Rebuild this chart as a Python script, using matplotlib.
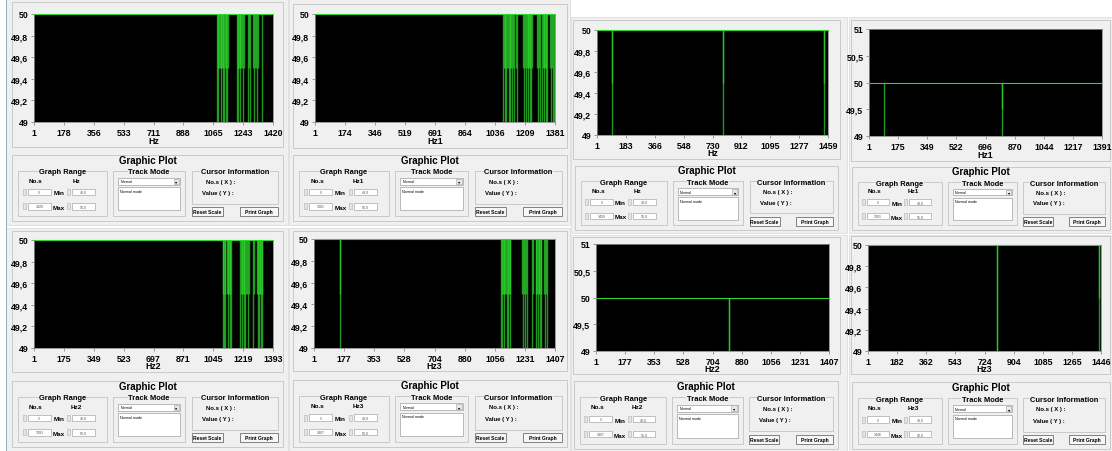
import matplotlib.pyplot as plt
from matplotlib.patches import Rectangle
import numpy as np

plt.rcParams['font.family'] = ['Liberation Sans', 'DejaVu Sans']

W, H = 1112, 452

# ---- data for the eight frequency plots ----
n_samples = [1420, 1381, 1459, 1391, 1393, 1407, 1407, 1446]
axis_names = ['Hz', 'Hz1', 'Hz', 'Hz1', 'Hz2', 'Hz3', 'Hz2', 'Hz3']
y_min = [49, 49, 49, 49, 49, 49, 49, 49]
y_max = [50, 50, 50, 51, 50, 50, 51, 50]
base_level = [50, 50, 50, 50, 50, 50, 50, 50]

x_ticks = [
    [1, 178, 356, 533, 711, 888, 1065, 1243, 1420],
    [1, 174, 346, 519, 691, 864, 1036, 1209, 1381],
    [1, 183, 366, 548, 730, 912, 1095, 1277, 1459],
    [1, 175, 349, 522, 696, 870, 1044, 1217, 1391],
    [1, 175, 349, 523, 697, 871, 1045, 1219, 1393],
    [1, 177, 353, 528, 704, 880, 1056, 1231, 1407],
    [1, 177, 353, 528, 704, 880, 1056, 1231, 1407],
    [1, 182, 362, 543, 724, 904, 1085, 1265, 1446],
]

# sample positions where the frequency drops, and the value it drops to
dips_x = [
    [1087, 1091, 1095, 1099, 1104, 1109, 1113, 1117, 1121, 1125, 1129,
     1135, 1139, 1143, 1147, 1151,
     1206, 1210, 1214, 1218, 1222, 1226, 1230, 1238, 1244, 1250,
     1273, 1279, 1284, 1303, 1308, 1313, 1318, 1323, 1328, 1355],
    [1083, 1087, 1091, 1095, 1099, 1103, 1112, 1116, 1120, 1124, 1128, 1132,
     1142, 1148, 1154, 1160, 1198, 1204, 1209,
     1215, 1219, 1223, 1227, 1231, 1235, 1240, 1245, 1250,
     1278, 1284, 1290, 1295, 1307, 1311, 1315, 1319, 1323, 1327, 1331, 1335,
     1353, 1359, 1365, 1370, 1375],
    [95, 97, 795, 797, 1432, 1434],
    [90, 792, 794],
    [1100, 1104, 1108, 1112, 1115, 1124, 1128, 1132, 1136, 1140, 1144, 1148,
     1202, 1206, 1210, 1214, 1218, 1222, 1226, 1231, 1236, 1243, 1248, 1253,
     1275, 1280, 1299, 1303, 1307, 1311, 1315, 1319, 1323, 1327, 1331],
    [152, 154,
     1091, 1095, 1099, 1103, 1107, 1111, 1115, 1122, 1126, 1130, 1134, 1138, 1142, 1146,
     1214, 1220, 1226, 1232, 1238, 1242, 1272, 1277,
     1295, 1299, 1303, 1307, 1311, 1315, 1319, 1323, 1327, 1340, 1346, 1352, 1358],
    [803, 804],
    [799, 801, 1431, 1433],
]
dips_y = [
    [49, 49.5, 49, 49.5, 49.5, 49.5, 49, 49.5, 49, 49.5, 49,
     49.5, 49, 49.5, 49, 49.5,
     49, 49.5, 49, 49.5, 49.5, 49, 49.5, 49.5, 49, 49.5,
     49, 49.5, 49, 49.5, 49, 49.5, 49.5, 49, 49.5, 49],
    [49, 49.5, 49, 49.5, 49, 49.5, 49.5, 49, 49.5, 49, 49.5, 49,
     49.5, 49, 49.5, 49, 49.5, 49, 49.5,
     49, 49.5, 49, 49.5, 49.5, 49, 49.5, 49, 49.5,
     49.5, 49, 49.5, 49, 49, 49.5, 49, 49.5, 49.5, 49, 49.5, 49,
     49.5, 49, 49.5, 49, 49],
    [49.5, 49, 49.5, 49, 49.5, 49],
    [49, 49.5, 49],
    [49, 49.5, 49, 49.5, 49, 49.5, 49, 49.5, 49.5, 49, 49.5, 49,
     49, 49.5, 49, 49.5, 49.5, 49, 49.5, 49, 49.5, 49.5, 49, 49.5,
     49, 49.5, 49.5, 49, 49.5, 49, 49.5, 49.5, 49, 49.5, 49],
    [49.5, 49,
     49, 49.5, 49, 49.5, 49.5, 49, 49.5, 49.5, 49, 49.5, 49, 49.5, 49.5, 49,
     49.5, 49, 49.5, 49, 49.5, 49, 49, 49.5,
     49.5, 49, 49.5, 49, 49.5, 49.5, 49, 49.5, 49, 49.5, 49, 49.5, 49],
    [49, 49],
    [49, 49, 49.5, 49],
]

# ---- screen layout (pixels, origin top-left) ----
backs = [(6, 0, 288, 226), (289, 0, 570, 226), (571, 18, 847, 234), (849, 18, 1112, 234),
         (6, 229, 288, 452), (289, 229, 570, 452), (571, 236, 847, 452), (849, 236, 1112, 452)]
frames = [(12, 3, 283, 148), (293, 5, 567, 149), (573, 21, 840, 160), (851, 21, 1110, 162),
          (12, 232, 283, 373), (293, 232, 567, 372), (573, 238, 840, 375), (851, 237, 1110, 375)]
plots = [(34, 15, 273, 123), (315, 15, 555, 123), (597, 31, 828, 136), (869, 30, 1102, 137),
         (34, 241, 273, 349), (314, 240, 555, 349), (596, 245, 829, 352), (868, 246, 1101, 352)]
boxes = [(12, 156, 283, 222), (293, 156, 567, 222), (575, 167, 838, 231), (852, 168, 1110, 231),
         (12, 382, 283, 448), (293, 381, 567, 448), (574, 382, 838, 450), (852, 383, 1110, 450)]

GREEN = '#2fd82f'
PANEL = '#f0f0f0'
EDGE = '#c9c9c9'

fig = plt.figure(figsize=(W / 100, H / 100), dpi=100)
fig.patch.set_facecolor('white')


def rect(x0, y0, x1, y1, **kw):
    kw.setdefault('lw', 0.7)
    kw.setdefault('zorder', 0.5)
    fig.patches.append(Rectangle((x0 / W, 1 - y1 / H), (x1 - x0) / W, (y1 - y0) / H,
                                 transform=fig.transFigure, **kw))


def text(x, y, s, size=5, **kw):
    kw.setdefault('ha', 'center')
    kw.setdefault('va', 'center')
    kw.setdefault('weight', 'bold')
    fig.text(x / W, 1 - y / H, s, fontsize=size, **kw)


def fmt(v):
    return ('%g' % v).replace('.', ',')


def group(x0, y0, x1, y1, title, size=5.4):
    rect(x0, y0, x1, y1, fc='none', ec=EDGE)
    text((x0 + x1) / 2, y0 + 1, title, size=size,
         bbox=dict(fc=PANEL, ec='none', pad=0.3))


def field(x0, y0, x1, y1, s, tc='#555555'):
    rect(x0, y0, x1, y1, fc='white', ec='#a8a8a8', lw=0.5)
    text((x0 + x1) / 2, (y0 + y1) / 2, s, size=2.6, color=tc, weight='normal')


def spinner(x, y):
    rect(x - 1.5, y - 3, x + 1.5, y + 3, fc='#e4e4e4', ec='#b0b0b0', lw=0.4)


def controls(box, n, name, ymin, ymax):
    x0, y0, x1, y1 = box
    w, h = x1 - x0, y1 - y0
    rect(x0, y0, x1, y1, fc='none', ec=EDGE)
    text((x0 + x1) / 2, y0 + 0.07 * h, 'Graphic Plot', size=7)

    # graph range group
    gx0, gx1 = x0 + 0.022 * w, x0 + 0.35 * w
    gw = gx1 - gx0
    group(gx0, y0 + 0.24 * h, gx1, y0 + 0.92 * h, 'Graph Range')
    text(gx0 + 0.2 * gw, y0 + 0.38 * h, 'No.s', size=4.6)
    text(gx0 + 0.66 * gw, y0 + 0.38 * h, name, size=4.6)
    for ry, left, lab, right in [(0.56, '0', 'Min', fmt(ymin) + ',0'),
                                 (0.78, str(n), 'Max', fmt(ymax) + ',0')]:
        yy = y0 + ry * h
        spinner(gx0 + 0.07 * gw, yy)
        tc = '#2a6fd6' if left == '0' else '#555555'
        field(gx0 + 0.11 * gw, yy - 3.2, gx0 + 0.37 * gw, yy + 3.2, left, tc=tc)
        text(gx0 + 0.46 * gw, yy + 1, lab, size=4.6)
        spinner(gx0 + 0.57 * gw, yy)
        field(gx0 + 0.61 * gw, yy - 3.2, gx0 + 0.87 * gw, yy + 3.2, right)

    # track mode group
    tx0, tx1 = x0 + 0.373 * w, x0 + 0.639 * w
    tw = tx1 - tx0
    group(tx0, y0 + 0.24 * h, tx1, y0 + 0.92 * h, 'Track Mode')
    rect(tx0 + 0.07 * tw, y0 + 0.35 * h, tx0 + 0.93 * tw, y0 + 0.45 * h, fc='white', ec='#a0a0a0', lw=0.5)
    text(tx0 + 0.1 * tw, y0 + 0.40 * h, 'Normal', size=2.6, ha='left', weight='normal')
    rect(tx0 + 0.84 * tw, y0 + 0.36 * h, tx0 + 0.92 * tw, y0 + 0.44 * h, fc='#e8e8e8', ec='#a0a0a0', lw=0.4)
    text(tx0 + 0.88 * tw, y0 + 0.40 * h, '\u25be', size=3.2, weight='normal')
    rect(tx0 + 0.07 * tw, y0 + 0.49 * h, tx0 + 0.93 * tw, y0 + 0.84 * h, fc='white', ec='#a0a0a0', lw=0.5)
    text(tx0 + 0.1 * tw, y0 + 0.54 * h, 'Normal mode', size=2.6, ha='left', weight='normal')

    # cursor information group
    cx0, cx1 = x0 + 0.664 * w, x0 + 0.982 * w
    cw = cx1 - cx0
    group(cx0, y0 + 0.24 * h, cx1, y0 + 0.74 * h, 'Cursor Information')
    text(cx0 + 0.16 * cw, y0 + 0.40 * h, 'No.s ( X ) :', size=4.3, ha='left')
    text(cx0 + 0.12 * cw, y0 + 0.57 * h, 'Value ( Y ) :', size=4.3, ha='left')

    for bx0, bx1, lab in [(0.664, 0.778, 'Reset Scale'), (0.84, 0.982, 'Print Graph')]:
        rect(x0 + bx0 * w, y0 + 0.79 * h, x0 + bx1 * w, y0 + 0.93 * h, fc='#f7f7f7', ec='#6f6f6f', lw=0.6)
        text(x0 + (bx0 + bx1) / 2 * w, y0 + 0.86 * h, lab, size=3.6)


for i in range(8):
    rect(*backs[i], fc=PANEL, ec='#d8d8d8', lw=0.5, zorder=0.2)
    rect(*frames[i], fc='none', ec=EDGE)

    px0, py0, px1, py1 = plots[i]
    ax = fig.add_axes([px0 / W, 1 - py1 / H, (px1 - px0) / W, (py1 - py0) / H])
    ax.set_zorder(2)
    ax.set_facecolor('black')
    n = n_samples[i]

    ax.hlines(base_level[i], 1, n, color=GREEN, lw=0.8, clip_on=False, zorder=3)
    ax.vlines(dips_x[i], dips_y[i], base_level[i], colors=GREEN, lw=1.0, alpha=0.7, zorder=2)

    ax.set_xlim(1, n)
    ax.set_ylim(y_min[i], y_max[i])
    ax.set_xticks(x_ticks[i])
    ax.set_xticklabels([str(t) for t in x_ticks[i]])
    step = 0.5 if y_max[i] - y_min[i] > 1 else 0.2
    yt = np.arange(y_min[i], y_max[i] + 0.01, step)
    ax.set_yticks(yt)
    ax.set_yticklabels([fmt(round(v, 1)) for v in yt])
    ax.tick_params(length=2.5, width=0.6, color='#8a8a8a', labelsize=6.3, pad=1.5)
    for lab in ax.get_xticklabels() + ax.get_yticklabels():
        lab.set_fontweight('bold')
    for s in ax.spines.values():
        s.set_color('#8a8a8a')
        s.set_linewidth(0.6)

    text((px0 + px1) / 2, py1 + 18, axis_names[i], size=6.3)
    controls(boxes[i], n, axis_names[i], y_min[i], y_max[i])

# window border on the left edge
rect(6, 0, 7, 452, fc='#8fb0c4', ec='none', zorder=0.6)

fig.savefig('out.png', dpi=100, facecolor=fig.get_facecolor())
